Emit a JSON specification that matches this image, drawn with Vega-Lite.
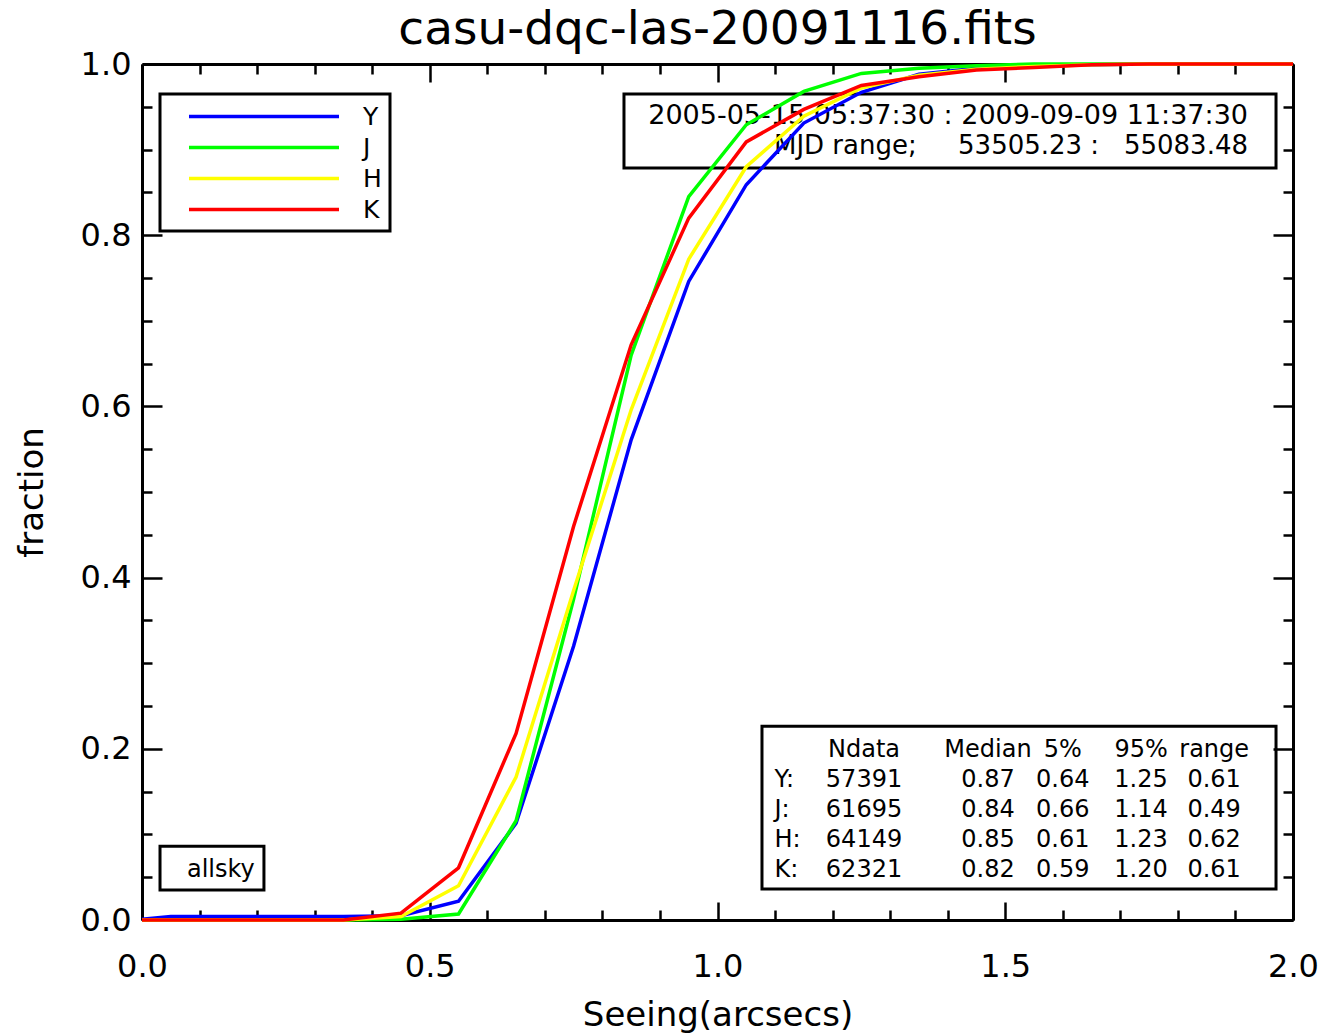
{
  "$schema": "https://vega.github.io/schema/vega-lite/v6.json",
  "width": 1151,
  "height": 856,
  "autosize": "none",
  "padding": {"left": 142, "top": 64, "right": 33, "bottom": 113},
  "background": "white",
  "title": {"text": "casu-dqc-las-20091116.fits", "fontSize": 47, "font": "DejaVu Sans", "fontWeight": "normal", "color": "black", "anchor": "middle", "frame": "group", "offset": -6},
  "config": {
    "view": {"stroke": null},
    "axis": {"labelFont": "DejaVu Sans", "labelFontSize": 32, "labelColor": "black", "titleFont": "DejaVu Sans", "titleFontSize": 34, "titleFontWeight": "normal", "titleColor": "black", "domainColor": "black", "domainWidth": 3, "tickColor": "black", "tickWidth": 2.5, "grid": false, "labelOverlap": false, "labelFlush": false, "labelBound": false},
    "text": {"font": "DejaVu Sans", "color": "black"}
  },
  "resolve": {"scale": {"x": "independent", "y": "independent"}, "axis": {"x": "independent", "y": "independent"}},
  "layer": [
    {
      "data": {"values": [{}]},
      "layer": [
        {"mark": {"type": "rect", "fillOpacity": 0, "stroke": "black", "strokeWidth": 3},
         "encoding": {
           "x": {"datum": 0.8375, "type": "quantitative", "scale": {"domain": [0, 2], "nice": false, "zero": false},
                 "axis": {"orient": "top", "title": null, "labels": false, "values": [0,0.1,0.2,0.3,0.4,0.5,0.6,0.7,0.8,0.9,1.0,1.1,1.2,1.3,1.4,1.5,1.6,1.7,1.8,1.9,2.0],
                          "tickSize": {"condition": {"test": "abs(datum.value*2 - round(datum.value*2)) < 0.001", "value": -18}, "value": -10}}},
           "x2": {"datum": 1.9705},
           "y": {"datum": 0.965, "type": "quantitative", "scale": {"domain": [0, 1], "nice": false, "zero": false},
                 "axis": {"orient": "right", "title": null, "labels": false, "values": [0,0.05,0.1,0.15,0.2,0.25,0.3,0.35,0.4,0.45,0.5,0.55,0.6,0.65,0.7,0.75,0.8,0.85,0.9,0.95,1.0],
                          "tickSize": {"condition": {"test": "abs(datum.value*5 - round(datum.value*5)) < 0.001", "value": -20}, "value": -10}}},
           "y2": {"datum": 0.8786}
         }},
        {"mark": {"type": "rect", "fillOpacity": 0, "stroke": "black", "strokeWidth": 3},
         "encoding": {"x": {"datum": 1.0773, "type": "quantitative"}, "x2": {"datum": 1.9705}, "y": {"datum": 0.2264, "type": "quantitative"}, "y2": {"datum": 0.0362}}},
        {"mark": {"type": "rect", "fillOpacity": 0, "stroke": "black", "strokeWidth": 3},
         "encoding": {"x": {"datum": 0.0313, "type": "quantitative"}, "x2": {"datum": 0.2119}, "y": {"datum": 0.0863, "type": "quantitative"}, "y2": {"datum": 0.035}}},
        {"mark": {"type": "text", "fontSize": 24, "align": "center", "baseline": "middle"},
         "encoding": {"x": {"datum": 0.137, "type": "quantitative"}, "y": {"datum": 0.0583, "type": "quantitative"}, "text": {"value": "allsky"}}},
        {"mark": {"type": "text", "fontSize": 27, "align": "right", "baseline": "middle"},
         "encoding": {"x": {"datum": 1.9218, "type": "quantitative"}, "y": {"datum": 0.9393, "type": "quantitative"}, "text": {"value": "2005-05-15 05:37:30 : 2009-09-09 11:37:30"}}},
        {"mark": {"type": "text", "fontSize": 26, "align": "right", "baseline": "middle"},
         "encoding": {"x": {"datum": 1.9218, "type": "quantitative"}, "y": {"datum": 0.9043, "type": "quantitative"}, "text": {"value": "MJD range;\u00a0\u00a0\u00a0\u00a0\u00a053505.23 :\u00a0\u00a0\u00a055083.48"}}}
      ]
    },
    {
      "data": {"values": [
        {"row": "hdr", "lab": "", "ndata": "Ndata", "median": "Median", "p5": "5%", "p95": "95%", "rng": "range"},
        {"row": "Y", "lab": "Y:", "ndata": "57391", "median": "0.87", "p5": "0.64", "p95": "1.25", "rng": "0.61"},
        {"row": "J", "lab": "J:", "ndata": "61695", "median": "0.84", "p5": "0.66", "p95": "1.14", "rng": "0.49"},
        {"row": "H", "lab": "H:", "ndata": "64149", "median": "0.85", "p5": "0.61", "p95": "1.23", "rng": "0.62"},
        {"row": "K", "lab": "K:", "ndata": "62321", "median": "0.82", "p5": "0.59", "p95": "1.20", "rng": "0.61"}
      ]},
      "encoding": {
        "y": {"field": "row", "type": "ordinal", "scale": {"domain": ["hdr", "Y", "J", "H", "K"], "range": [686, 806], "padding": 0}, "axis": null}
      },
      "layer": [
        {"mark": {"type": "text", "fontSize": 24, "align": "left", "baseline": "middle"},
         "encoding": {"x": {"datum": 1.099, "type": "quantitative", "scale": {"domain": [0, 2], "nice": false, "zero": false}, "axis": null}, "text": {"field": "lab"}}},
        {"mark": {"type": "text", "fontSize": 24, "align": "center", "baseline": "middle"},
         "encoding": {"x": {"datum": 1.2546, "type": "quantitative"}, "text": {"field": "ndata"}}},
        {"mark": {"type": "text", "fontSize": 24, "align": "center", "baseline": "middle"},
         "encoding": {"x": {"datum": 1.47, "type": "quantitative"}, "text": {"field": "median"}}},
        {"mark": {"type": "text", "fontSize": 24, "align": "center", "baseline": "middle"},
         "encoding": {"x": {"datum": 1.6, "type": "quantitative"}, "text": {"field": "p5"}}},
        {"mark": {"type": "text", "fontSize": 24, "align": "center", "baseline": "middle"},
         "encoding": {"x": {"datum": 1.736, "type": "quantitative"}, "text": {"field": "p95"}}},
        {"mark": {"type": "text", "fontSize": 24, "align": "center", "baseline": "middle"},
         "encoding": {"x": {"datum": 1.863, "type": "quantitative"}, "text": {"field": "rng"}}}
      ]
    },
    {
      "data": {"values": [
        {"band":"Y","seeing":0,"fraction":0.001},{"band":"Y","seeing":0.05,"fraction":0.004},{"band":"Y","seeing":0.15,"fraction":0.004},{"band":"Y","seeing":0.25,"fraction":0.004},{"band":"Y","seeing":0.35,"fraction":0.004},{"band":"Y","seeing":0.45,"fraction":0.005},{"band":"Y","seeing":0.55,"fraction":0.022},{"band":"Y","seeing":0.65,"fraction":0.113},{"band":"Y","seeing":0.75,"fraction":0.32},{"band":"Y","seeing":0.85,"fraction":0.561},{"band":"Y","seeing":0.95,"fraction":0.746},{"band":"Y","seeing":1.05,"fraction":0.859},{"band":"Y","seeing":1.15,"fraction":0.931},{"band":"Y","seeing":1.25,"fraction":0.967},{"band":"Y","seeing":1.35,"fraction":0.988},{"band":"Y","seeing":1.45,"fraction":0.995},{"band":"Y","seeing":1.55,"fraction":0.998},{"band":"Y","seeing":1.65,"fraction":0.999},{"band":"Y","seeing":1.75,"fraction":1},{"band":"Y","seeing":1.85,"fraction":1},{"band":"Y","seeing":1.95,"fraction":1},{"band":"Y","seeing":2.0,"fraction":1},
        {"band":"J","seeing":0,"fraction":0},{"band":"J","seeing":0.05,"fraction":0},{"band":"J","seeing":0.15,"fraction":0},{"band":"J","seeing":0.25,"fraction":0},{"band":"J","seeing":0.35,"fraction":0},{"band":"J","seeing":0.45,"fraction":0.001},{"band":"J","seeing":0.55,"fraction":0.007},{"band":"J","seeing":0.65,"fraction":0.116},{"band":"J","seeing":0.75,"fraction":0.375},{"band":"J","seeing":0.85,"fraction":0.66},{"band":"J","seeing":0.95,"fraction":0.845},{"band":"J","seeing":1.05,"fraction":0.929},{"band":"J","seeing":1.15,"fraction":0.968},{"band":"J","seeing":1.25,"fraction":0.989},{"band":"J","seeing":1.35,"fraction":0.995},{"band":"J","seeing":1.45,"fraction":0.998},{"band":"J","seeing":1.55,"fraction":1},{"band":"J","seeing":1.65,"fraction":1},{"band":"J","seeing":1.75,"fraction":1},{"band":"J","seeing":1.85,"fraction":1},{"band":"J","seeing":1.95,"fraction":1},{"band":"J","seeing":2.0,"fraction":1},
        {"band":"H","seeing":0,"fraction":0},{"band":"H","seeing":0.05,"fraction":0},{"band":"H","seeing":0.15,"fraction":0},{"band":"H","seeing":0.25,"fraction":0},{"band":"H","seeing":0.35,"fraction":0},{"band":"H","seeing":0.45,"fraction":0.004},{"band":"H","seeing":0.55,"fraction":0.04},{"band":"H","seeing":0.65,"fraction":0.167},{"band":"H","seeing":0.75,"fraction":0.385},{"band":"H","seeing":0.85,"fraction":0.596},{"band":"H","seeing":0.95,"fraction":0.772},{"band":"H","seeing":1.05,"fraction":0.88},{"band":"H","seeing":1.15,"fraction":0.939},{"band":"H","seeing":1.25,"fraction":0.972},{"band":"H","seeing":1.35,"fraction":0.987},{"band":"H","seeing":1.45,"fraction":0.994},{"band":"H","seeing":1.55,"fraction":0.997},{"band":"H","seeing":1.65,"fraction":0.999},{"band":"H","seeing":1.75,"fraction":1},{"band":"H","seeing":1.85,"fraction":1},{"band":"H","seeing":1.95,"fraction":1},{"band":"H","seeing":2.0,"fraction":1},
        {"band":"K","seeing":0,"fraction":0},{"band":"K","seeing":0.05,"fraction":0},{"band":"K","seeing":0.15,"fraction":0},{"band":"K","seeing":0.25,"fraction":0},{"band":"K","seeing":0.35,"fraction":0},{"band":"K","seeing":0.45,"fraction":0.008},{"band":"K","seeing":0.55,"fraction":0.061},{"band":"K","seeing":0.65,"fraction":0.218},{"band":"K","seeing":0.75,"fraction":0.46},{"band":"K","seeing":0.85,"fraction":0.672},{"band":"K","seeing":0.95,"fraction":0.82},{"band":"K","seeing":1.05,"fraction":0.909},{"band":"K","seeing":1.15,"fraction":0.947},{"band":"K","seeing":1.25,"fraction":0.975},{"band":"K","seeing":1.35,"fraction":0.985},{"band":"K","seeing":1.45,"fraction":0.993},{"band":"K","seeing":1.55,"fraction":0.996},{"band":"K","seeing":1.65,"fraction":0.999},{"band":"K","seeing":1.75,"fraction":1},{"band":"K","seeing":1.85,"fraction":1},{"band":"K","seeing":1.95,"fraction":1},{"band":"K","seeing":2.0,"fraction":1}
      ]},
      "mark": {"type": "line", "strokeWidth": 3.5},
      "encoding": {
        "x": {"field": "seeing", "type": "quantitative", "scale": {"domain": [0, 2], "nice": false, "zero": false},
              "axis": {"orient": "bottom", "title": "Seeing(arcsecs)", "titlePadding": 8, "labelPadding": 49,
                       "values": [0,0.1,0.2,0.3,0.4,0.5,0.6,0.7,0.8,0.9,1.0,1.1,1.2,1.3,1.4,1.5,1.6,1.7,1.8,1.9,2.0],
                       "labelExpr": "abs(datum.value*2 - round(datum.value*2)) < 0.001 ? format(datum.value, '.1f') : ''",
                       "tickSize": {"condition": {"test": "abs(datum.value*2 - round(datum.value*2)) < 0.001", "value": -18}, "value": -10}}},
        "y": {"field": "fraction", "type": "quantitative", "scale": {"domain": [0, 1], "nice": false, "zero": false},
              "axis": {"orient": "left", "title": "fraction", "titlePadding": 31, "labelPadding": 31,
                       "values": [0,0.05,0.1,0.15,0.2,0.25,0.3,0.35,0.4,0.45,0.5,0.55,0.6,0.65,0.7,0.75,0.8,0.85,0.9,0.95,1.0],
                       "labelExpr": "abs(datum.value*5 - round(datum.value*5)) < 0.001 ? format(datum.value, '.1f') : ''",
                       "tickSize": {"condition": {"test": "abs(datum.value*5 - round(datum.value*5)) < 0.001", "value": -20}, "value": -10}}},
        "color": {"field": "band", "type": "nominal", "sort": ["Y", "J", "H", "K"],
                  "scale": {"domain": ["Y", "J", "H", "K"], "range": ["#0000ff", "#00ff00", "#ffff00", "#ff0000"]},
                  "legend": {"orient": "none", "legendX": 18, "legendY": 30, "title": null, "symbolType": "M-1,0H11", "symbolSize": 625, "symbolStrokeWidth": 3.5,
                             "labelFont": "DejaVu Sans", "labelFontSize": 25, "labelColor": "black", "labelOffset": 147, "padding": 8, "strokeColor": "black", "rowPadding": 3, "symbolOffset": 19,
                             "encode": {"legend": {"update": {"strokeWidth": {"value": 3}}}}}}
      }
    }
  ]
}
